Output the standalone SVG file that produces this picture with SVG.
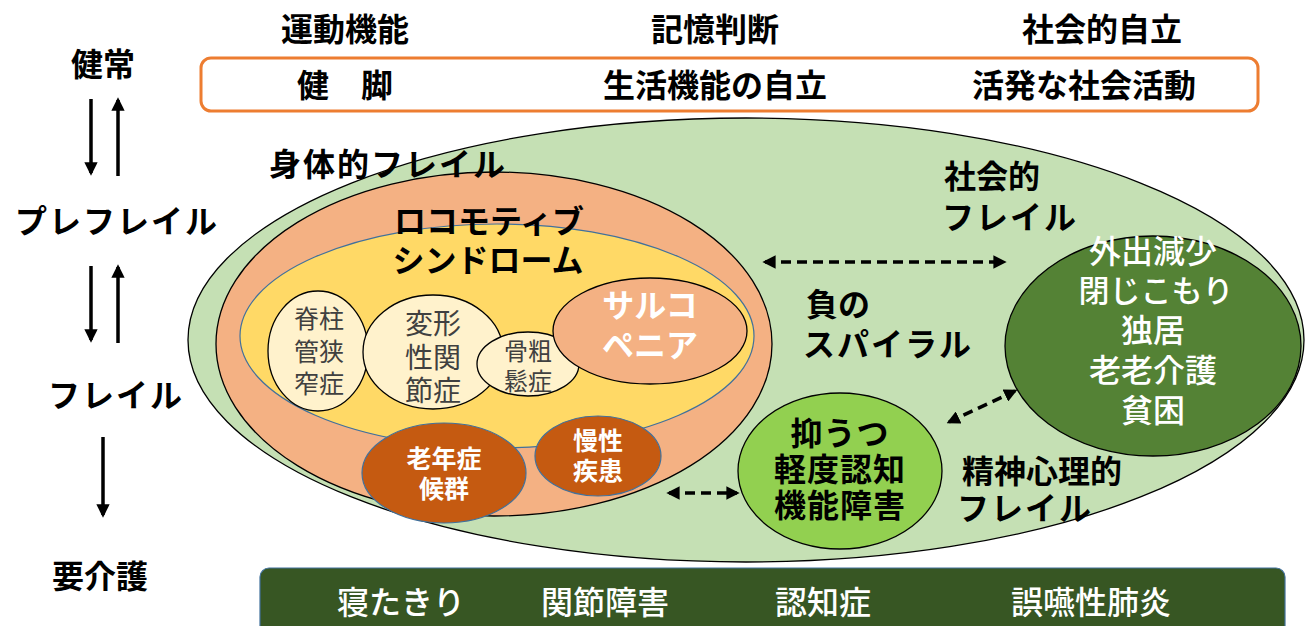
<svg xmlns="http://www.w3.org/2000/svg" width="1311" height="626" viewBox="0 0 1311 626">
<defs>
<style>
text{font-family:"Noto Sans CJK JP","Noto Sans",sans-serif;text-anchor:middle}
.h{font-size:32px;font-weight:bold;fill:#000}
.b{font-size:32px;font-weight:bold;fill:#000}
.w{fill:#fff;font-weight:bold}
.n{fill:#fff;font-weight:500}
.g{fill:#404040;font-weight:normal}
.k{stroke:#000;stroke-width:1.3}
.ar{stroke:#000;stroke-width:3.5;fill:none}
.da{stroke:#000;stroke-width:3.5;fill:none;stroke-dasharray:10 6}
</style>
<marker id="ah" viewBox="0 0 10 10" refX="8" refY="5" markerWidth="3.8" markerHeight="3.8" orient="auto-start-reverse"><path d="M0,0 L10,5 L0,10 z" fill="#000"/></marker>
</defs>
<rect width="1311" height="626" fill="#fff"/>

<g id="stages">
<text class="h" x="103" y="76" font-size="33">健常</text>
<text class="h" x="117" y="233" letter-spacing="2">プレフレイル</text>
<text class="h" x="116" y="407" letter-spacing="2">フレイル</text>
<text class="h" x="100" y="588" font-size="33">要介護</text>
</g>
<g id="header">
<text class="h" x="345" y="41">運動機能</text>
<text class="h" x="715" y="41">記憶判断</text>
<text class="h" x="1102" y="41">社会的自立</text>
</g>
<g id="topbox">
<rect x="201" y="58" width="1057" height="53" rx="10" fill="#fff" stroke="#ED7D31" stroke-width="3"/>
<text class="b" x="345" y="97">健　脚</text>
<text class="b" x="715" y="97">生活機能の自立</text>
<text class="b" x="1084" y="97">活発な社会活動</text>
</g>

<g id="social">
<ellipse cx="746" cy="340" rx="558" ry="222" fill="#C5E0B4" class="k"/>
</g>
<g id="physical">
<ellipse cx="494" cy="344" rx="278" ry="172" fill="#F4B183" class="k"/>
</g>
<g id="locomo">
<ellipse cx="497" cy="336" rx="257" ry="112" fill="#FFD966" stroke="#41719C" stroke-width="1.2"/>
<text class="b" x="489" y="233" font-size="30">ロコモティブ</text>
<text class="b" x="488" y="272" font-size="30">シンドローム</text>
</g>
<g id="spinal">
<ellipse cx="318" cy="351" rx="50" ry="60" fill="#FFF2CC" class="k"/>
<text class="g" x="319" y="328" font-size="25">脊柱</text>
<text class="g" x="319" y="361" font-size="25">管狭</text>
<text class="g" x="319" y="393" font-size="25">窄症</text>
</g>
<g id="oa">
<ellipse cx="433" cy="352" rx="70" ry="57" fill="#FFF2CC" class="k"/>
<text class="g" x="433" y="334" font-size="28">変形</text>
<text class="g" x="433" y="368" font-size="28">性関</text>
<text class="g" x="433" y="401" font-size="28">節症</text>
</g>
<g id="osteo">
<ellipse cx="528" cy="364" rx="51" ry="32" fill="#FFF2CC" class="k"/>
<text class="g" x="528" y="360" font-size="24">骨粗</text>
<text class="g" x="528" y="390" font-size="24">鬆症</text>
</g>
<g id="sarco">
<ellipse cx="650" cy="331" rx="97" ry="53" fill="#F4B183" class="k"/>
<text class="w" x="650" y="317" font-size="32">サルコ</text>
<text class="w" x="650" y="357" font-size="32">ペニア</text>
</g>
<g id="geriatric">
<ellipse cx="444" cy="473" rx="82" ry="50" fill="#C55A11" stroke="#41719C" stroke-width="1.2"/>
<text class="w" x="444" y="468" font-size="25">老年症</text>
<text class="w" x="444" y="498" font-size="25">候群</text>
</g>
<g id="chronic">
<ellipse cx="598" cy="456" rx="63" ry="40" fill="#C55A11" stroke="#41719C" stroke-width="1.2"/>
<text class="w" x="598" y="450" font-size="25">慢性</text>
<text class="w" x="598" y="480" font-size="25">疾患</text>
</g>
<g id="mental">
<ellipse cx="840" cy="471" rx="102" ry="78" fill="#92D050" class="k"/>
<text class="b" x="840" y="445" font-size="29" letter-spacing="1">抑うつ</text>
<text class="b" x="840" y="481" font-size="29" letter-spacing="1">軽度認知</text>
<text class="b" x="840" y="517" font-size="29" letter-spacing="1">機能障害</text>
</g>
<g id="isolation">
<ellipse cx="1153" cy="346" rx="148" ry="110" fill="#548235" class="k"/>
<text class="n" x="1153" y="263" font-size="32">外出減少</text>
<text class="n" x="1156" y="302" font-size="31">閉じこもり</text>
<text class="n" x="1153" y="342" font-size="32">独居</text>
<text class="n" x="1153" y="382" font-size="32">老老介護</text>
<text class="n" x="1153" y="422" font-size="32">貧困</text>
</g>
<g id="labels">
<text class="b" x="388" y="176" font-size="33" letter-spacing="2">身体的フレイル</text>
<text class="b" x="992" y="188">社会的</text>
<text class="b" x="1010" y="229" letter-spacing="2">フレイル</text>
<text class="b" x="838" y="316">負の</text>
<text class="b" x="888" y="356" letter-spacing="2">スパイラル</text>
<text class="b" x="1042" y="483">精神心理的</text>
<text class="b" x="1025" y="520" letter-spacing="2">フレイル</text>
</g>

<g id="bottombox">
<rect x="260" y="568" width="1025" height="70" rx="9" fill="#375623" stroke="#41719C" stroke-width="1.2"/>
<text class="n" x="401" y="614" font-size="32">寝たきり</text>
<text class="n" x="605" y="614" font-size="32">関節障害</text>
<text class="n" x="823" y="614" font-size="32">認知症</text>
<text class="n" x="1091" y="614" font-size="32">誤嚥性肺炎</text>
</g>

<g id="connectors">
<line class="ar" x1="91" y1="99" x2="91" y2="173" marker-end="url(#ah)"/>
<line class="ar" x1="118" y1="176" x2="118" y2="100" marker-end="url(#ah)"/>
<line class="ar" x1="91" y1="266" x2="91" y2="340" marker-end="url(#ah)"/>
<line class="ar" x1="118" y1="343" x2="118" y2="267" marker-end="url(#ah)"/>
<line class="ar" x1="103" y1="437" x2="103" y2="515" marker-end="url(#ah)"/>
<line class="da" x1="765" y1="262" x2="1004" y2="262" marker-start="url(#ah)" marker-end="url(#ah)"/>
<line class="da" x1="669" y1="493" x2="737" y2="493" marker-start="url(#ah)" marker-end="url(#ah)"/>
<line class="da" x1="949" y1="422" x2="1015" y2="391" marker-start="url(#ah)" marker-end="url(#ah)"/>
</g>
</svg>
